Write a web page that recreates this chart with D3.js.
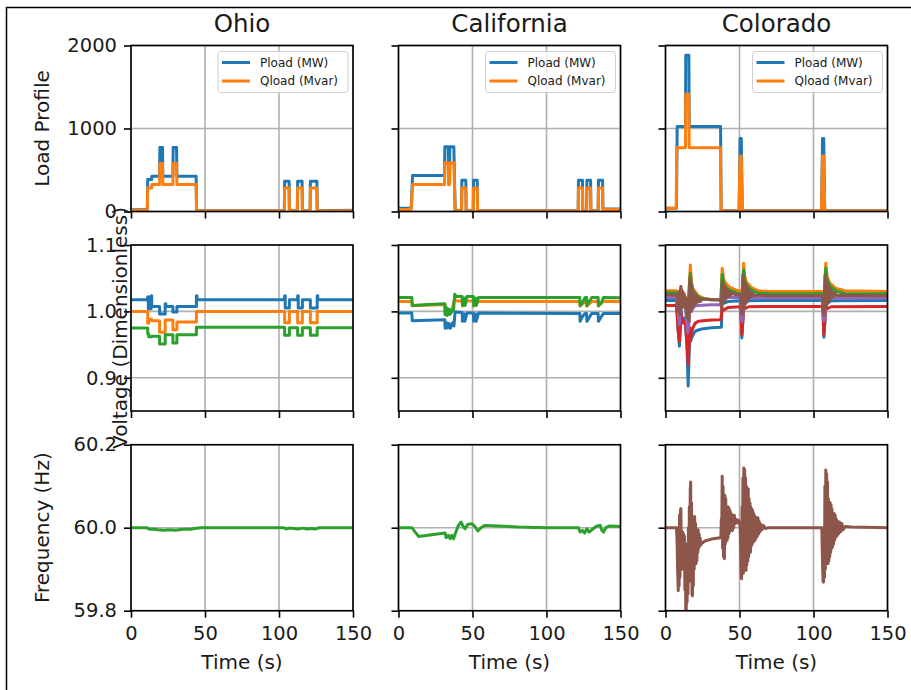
<!DOCTYPE html>
<html>
<head>
<meta charset="utf-8">
<script src="https://cdn.jsdelivr.net/npm/d3@7"></script>
<style>
  body { margin: 0; background: #fff; }
  svg { font-family: "DejaVu Sans", sans-serif; }
</style>
</head>
<body>
<div id="chart"></div>
<script>
// ---- chart data (time in s) ----
const states = ["Ohio", "California", "Colorado"];
const timeTicks = [0, 50, 100, 150];
const loadTicks = [0, 1000, 2000];
const voltTicks = [0.9, 1.0, 1.1];
const freqTicks = [59.8, 60.0, 60.2];
const legendLabels = ["Pload (MW)", "Qload (Mvar)"];

// load profiles [t, value]
const ohioP = [[0,20],[11,20],[11.3,385],[14,385],[14,425],[19.3,425],[19.5,770],[21.3,770],[21.5,425],[28.3,425],[28.5,770],[30.8,770],[31,425],[44,425],[44.3,10],[103.6,10],[103.8,364],[106.8,364],[107,10],[112.4,10],[112.6,364],[115.6,364],[115.8,10],[121,10],[121.2,364],[125.6,364],[125.8,10],[150,15]];
const ohioQ = [[0,15],[11,15],[11.3,283],[14,283],[14,324],[19.3,324],[19.5,579],[21.3,579],[21.5,324],[28.3,324],[28.5,579],[30.8,579],[31,324],[44,324],[44.3,5],[103.6,5],[103.8,283],[106.8,283],[107,5],[112.4,5],[112.6,283],[115.6,283],[115.8,5],[121,5],[121.2,283],[125.6,283],[125.8,5],[150,10]];
const caliP = [[0,40],[8.6,40],[9.5,433],[31.1,433],[31.3,781],[33.6,781],[33.8,433],[34.5,433],[34.7,781],[37.4,781],[38.3,10],[42.6,10],[42.8,376],[45.5,376],[45.7,10],[50.5,10],[50.7,376],[53.2,376],[53.4,10],[121.4,10],[121.6,376],[124.3,376],[124.5,10],[127.1,10],[127.3,376],[129.8,376],[130,10],[134.9,10],[135.1,376],[137.9,376],[138.1,30],[150,30]];
const caliQ = [[0,25],[8.6,25],[9.5,324],[31.1,324],[31.3,587],[33.6,587],[33.8,324],[34.5,324],[34.7,587],[37.4,587],[38.3,5],[42.6,5],[42.8,283],[45.5,283],[45.7,5],[50.5,5],[50.7,283],[53.2,283],[53.4,5],[121.4,5],[121.6,283],[124.3,283],[124.5,5],[127.1,5],[127.3,283],[129.8,283],[130,5],[134.9,5],[135.1,283],[137.9,283],[138.1,25],[150,25]];
const coloP = [[0,40],[7.4,40],[7.9,1024],[13.5,1024],[13.7,1883],[15.8,1883],[16,1024],[37.2,1024],[37.6,10],[49.7,10],[50.4,879],[51.2,879],[51.9,10],[105.4,10],[106.1,879],[106.9,879],[107.6,10],[150,10]];
const coloQ = [[0,40],[7.2,40],[7.6,769],[13.5,769],[13.7,1417],[15.8,1417],[16,769],[37.2,769],[37.6,5],[49.7,5],[50.4,668],[51.2,668],[51.9,5],[105.4,5],[106.1,668],[106.9,668],[107.6,5],[150,5]];

// bus voltages [t, p.u.]
const ohioV1 = [[0,1.0175],[11.3,1.0175],[11.3,1.022],[11.7,1.022],[11.7,1.004],[13.6,1.004],[13.6,1.0235],[14,1.0235],[14,1.0075],[19.3,1.0075],[19.3,0.996],[23.1,0.996],[23.1,1.0115],[23.6,1.0115],[23.6,1.0075],[28.3,1.0075],[28.3,0.999],[31,0.999],[31,1.0075],[44.2,1.0075],[44.2,1.0235],[44.6,1.0235],[44.6,1.0175],[103.8,1.0175],[103.8,1.0235],[104.2,1.0235],[104.2,1.005],[107,1.005],[107,1.0175],[112.6,1.0175],[112.6,1.0235],[113,1.0235],[113,1.005],[115.8,1.005],[115.8,1.0175],[121.2,1.0175],[121.2,1.005],[125.8,1.005],[125.8,1.0235],[126.2,1.0235],[126.2,1.0175],[150,1.0175]];
const ohioV2 = [[0,1.0],[11.3,1.0],[11.3,0.982],[12,0.982],[12,0.988],[14,0.988],[14,0.986],[19.3,0.986],[19.3,0.9685],[23.1,0.9685],[23.1,0.987],[28.3,0.987],[28.3,0.9725],[31,0.9725],[31,0.984],[44.2,0.984],[44.2,1.0],[103.8,1.0],[103.8,0.983],[107,0.983],[107,1.0],[112.6,1.0],[112.6,0.983],[115.8,0.983],[115.8,1.0],[121.2,1.0],[121.2,0.983],[125.8,0.983],[125.8,1.0],[150,1.0]];
const ohioV3 = [[0,0.975],[11.3,0.975],[11.3,0.966],[12,0.966],[12,0.962],[14,0.962],[14,0.9625],[19.3,0.9625],[19.3,0.951],[23.1,0.951],[23.1,0.965],[28.3,0.965],[28.3,0.9525],[31,0.9525],[31,0.965],[44.2,0.965],[44.2,0.976],[103.8,0.976],[103.8,0.964],[107,0.964],[107,0.9755],[112.6,0.9755],[112.6,0.964],[115.8,0.964],[115.8,0.9755],[121.2,0.9755],[121.2,0.964],[125.8,0.964],[125.8,0.9755],[150,0.9755]];
const caliV1 = [[0,0.9975],[9,0.9975],[9.3,0.986],[20,0.9865],[31.3,0.9875],[31.5,0.9745],[32.5,0.983],[33.2,0.975],[34,0.982],[35,0.9745],[36.5,0.983],[37.5,0.978],[38.2,0.999],[43,0.9985],[43.2,0.985],[44.5,0.996],[44.8,0.985],[46.2,0.9975],[50.6,0.9975],[50.8,0.985],[52.3,0.996],[52.5,0.985],[54.1,0.9975],[122.5,0.997],[122.7,0.985],[124.2,0.992],[126.1,0.997],[127.1,0.997],[127.3,0.985],[130.6,0.997],[134.9,0.997],[135.1,0.985],[137,0.992],[138.5,0.997],[150,0.997]];
const caliV2 = [[0,1.015],[9,1.015],[9.3,1.0085],[31.3,1.0105],[31.5,0.998],[33,1.003],[34,0.996],[36,1.002],[38,1.019],[39,1.0155],[43,1.0155],[43.3,1.008],[46.2,1.0155],[50.6,1.0155],[50.8,1.008],[54.1,1.015],[122.5,1.015],[122.7,1.008],[126.1,1.015],[127.1,1.015],[127.3,1.008],[130.6,1.015],[134.9,1.015],[135.1,1.008],[138.5,1.015],[150,1.015]];
const caliV3 = [[0,1.021],[9,1.021],[9.3,1.009],[20,1.0105],[31.3,1.0115],[31.5,0.995],[32.3,1.006],[32.7,0.994],[33.4,1.004],[33.8,0.995],[34.5,1.003],[35,0.996],[36,1.0],[37.2,1.003],[38,1.026],[39,1.0225],[43,1.0225],[43.3,1.009],[44.8,1.02],[45,1.009],[46.2,1.0225],[50.6,1.0225],[50.8,1.009],[52.4,1.02],[52.6,1.009],[54.1,1.021],[122.5,1.021],[122.7,1.009],[124.2,1.013],[126.1,1.021],[127.1,1.021],[127.3,1.009],[130.6,1.021],[134.9,1.021],[135.1,1.009],[137,1.013],[138.5,1.021],[150,1.0205]];
const coloV1 = [[0,1.0165],[7.4,1.0165],[8.6,0.97],[9.4,0.9475],[10,0.975],[10.4,1.005],[11.2,0.985],[12.5,0.99],[13.5,0.985],[14.5,0.95],[15.3,0.8875],[15.9,0.93],[16.5,0.975],[17.1,0.955],[17.6,0.96],[19.9,0.97],[22.1,0.972],[25.5,0.974],[31.1,0.9755],[37.4,0.976],[37.8,0.976],[38.3,1.02],[39.2,1.012],[42.4,1.015],[50.8,1.016],[51.6,0.96],[52.4,0.99],[52.8,1.025],[53.6,1.012],[56,1.016],[70,1.0165],[106.2,1.0165],[107,0.961],[107.8,0.99],[108.3,1.025],[109.2,1.012],[112,1.016],[150,1.0165]];
const coloV2 = [[0,1.031],[7.4,1.031],[8.6,1.026],[9.4,1.015],[10.4,1.037],[11.2,1.022],[12.3,1.028],[13.5,1.02],[15,1.012],[15.8,1.03],[16.8,1.07],[17.5,1.045],[18.3,1.036],[19.9,1.03],[22.1,1.024],[25.5,1.02],[31.1,1.018],[37.4,1.0175],[38.3,1.065],[39.2,1.05],[40.2,1.044],[42.4,1.038],[44.7,1.035],[49.2,1.031],[50.8,1.031],[51.6,1.02],[52.8,1.0725],[53.6,1.052],[54.8,1.044],[58.2,1.036],[62.7,1.031],[70,1.03],[106.2,1.03],[107.2,1.02],[108.3,1.0725],[109.2,1.052],[111.2,1.042],[115.7,1.034],[121.4,1.031],[150,1.03]];
const coloV3 = [[0,1.028],[7.4,1.028],[8.6,1.022],[9.4,1.012],[10.4,1.033],[11.2,1.02],[12.3,1.025],[13.5,1.018],[15,1.008],[15.8,1.025],[16.8,1.0575],[17.5,1.04],[18.3,1.032],[19.9,1.027],[22.1,1.022],[25.5,1.019],[31.1,1.0175],[37.4,1.017],[38.3,1.056],[39.2,1.044],[40.2,1.038],[42.4,1.033],[44.7,1.031],[49.2,1.027],[50.8,1.027],[51.6,1.016],[52.8,1.0625],[53.6,1.046],[54.8,1.039],[58.2,1.032],[62.7,1.0275],[70,1.0265],[106.2,1.0265],[107.2,1.016],[108.3,1.065],[109.2,1.048],[111.2,1.038],[115.7,1.03],[121.4,1.027],[150,1.0265]];
const coloV4 = [[0,1.009],[7.4,1.009],[8.6,0.97],[9.4,0.955],[10,0.975],[10.4,0.998],[11.2,0.982],[12.5,0.985],[13.5,0.98],[14.5,0.95],[15.3,0.92],[15.9,0.945],[16.5,0.975],[17.1,0.96],[17.6,0.97],[19.9,0.982],[22.1,0.985],[25.5,0.986],[31.1,0.987],[37.4,0.9875],[38.3,1.004],[39.2,1.002],[42.4,1.006],[50.8,1.007],[51.6,0.965],[52.4,0.99],[52.8,1.012],[53.6,1.004],[56,1.007],[70,1.0075],[106.2,1.0075],[107,0.965],[107.8,0.99],[108.3,1.012],[109.2,1.004],[112,1.007],[150,1.0075]];
const coloV5 = [[0,1.021],[7.4,1.021],[8.6,1.0],[9.4,0.98],[10.4,1.02],[11.2,1.005],[12.5,1.01],[13.5,1.005],[15,0.968],[15.8,0.98],[16.8,1.03],[17.6,1.0],[18.5,1.005],[19.9,1.008],[22.1,1.009],[31.1,1.01],[37.4,1.01],[38.3,1.03],[39.2,1.02],[42.4,1.021],[50.8,1.021],[51.6,0.985],[52.4,1.0],[52.8,1.03],[53.6,1.02],[58,1.021],[70,1.02],[106.2,1.02],[107,0.986],[107.8,1.0],[108.3,1.03],[109.2,1.02],[115,1.02],[150,1.02]];
const coloV6 = [[0,1.025],[7.4,1.025],[8,1.022],[8.6,1.0],[9.2,1.03],[9.7,0.995],[10.4,1.0375],[11,1.005],[11.6,1.03],[12.2,1.01],[12.8,1.025],[13.5,1.005],[14.1,1.02],[14.7,0.99],[15.3,1.005],[15.9,0.985],[16.5,1.05],[17.1,1.0],[17.7,1.04],[18.3,1.005],[18.9,1.03],[19.5,1.01],[20.1,1.025],[20.7,1.012],[21.3,1.022],[22,1.014],[22.7,1.02],[23.5,1.015],[25,1.0185],[31,1.0175],[37.4,1.0175],[37.8,1.005],[38.3,1.045],[38.9,1.012],[39.5,1.04],[40.1,1.016],[40.7,1.035],[41.3,1.02],[41.9,1.032],[42.5,1.022],[43.2,1.03],[44,1.024],[45,1.028],[47,1.025],[50.6,1.025],[51.2,1.005],[51.8,0.995],[52.4,1.055],[53,1.005],[53.6,1.045],[54.2,1.012],[54.8,1.04],[55.4,1.017],[56,1.034],[56.6,1.02],[57.3,1.03],[58,1.022],[58.8,1.028],[60,1.024],[62,1.0245],[70,1.0235],[106,1.0235],[106.6,1.005],[107.2,0.995],[107.8,1.055],[108.4,1.005],[109,1.045],[109.6,1.012],[110.2,1.04],[110.8,1.017],[111.4,1.034],[112,1.02],[112.7,1.03],[113.4,1.022],[114.2,1.028],[115.5,1.024],[118,1.0245],[150,1.0235]];

// frequency [t, Hz]
const ohioF = [[0,60.0],[11,60.0],[11.5,59.998],[13,59.996],[15,59.997],[18,59.995],[22,59.994],[26,59.995],[30,59.994],[35,59.996],[40,59.996],[43,59.998],[47,60.0],[70,60.0],[103.5,60.0],[104.5,59.997],[107,59.999],[110,59.998],[113,59.997],[116,59.999],[119,59.997],[122,59.998],[125,59.997],[127,60.0],[150,60.0]];
const caliF = [[0,60.0],[9,60.0],[11.3,59.9895],[13.5,59.979],[22.5,59.983],[31.5,59.987],[32.2,59.976],[33.8,59.9815],[34.9,59.9735],[36,59.9815],[37.2,59.9735],[38.3,59.9855],[40.5,60.0056],[42.3,60.0137],[43.9,60.0016],[45,59.9976],[46.8,60.008],[49.5,60.0097],[51.4,60.004],[53.6,59.992],[56.3,60.0016],[58.6,60.0056],[67.6,60.004],[81.1,60.0016],[99.1,60.0],[121.6,60.0],[122.7,59.9895],[124.3,59.9935],[125.7,59.987],[127.3,59.9976],[128.8,59.9895],[130.6,59.995],[134,60.004],[136.3,60.0056],[137.4,59.9935],[138.5,59.9895],[140.1,60.0],[142.3,60.004],[149.8,60.0032]];
const coloF = [[0,60.0],[7.4,60.0],[7.8,59.97],[8.2,59.9],[8.6,59.848],[8.9,60.0],[9.2,59.86],[9.5,60.03],[9.8,59.88],[10.1,60.04],[10.4,60.046],[10.7,59.93],[11.0,59.99],[11.3,59.9],[11.6,59.99],[11.9,59.905],[12.2,59.985],[12.5,59.91],[12.8,59.98],[13.1,59.85],[13.4,59.95],[13.7,59.8],[14.0,59.79],[14.3,59.96],[14.6,59.82],[14.9,59.96],[15.2,59.84],[15.5,60.0],[15.8,59.87],[16.1,60.05],[16.4,59.9],[16.7,60.09],[17.0,60.11],[17.3,59.88],[17.6,60.06],[17.9,59.84],[18.2,59.836],[18.5,60.02],[18.8,59.86],[19.1,60.02],[19.4,59.9],[19.7,60.027],[20.0,59.92],[20.3,60.01],[20.6,59.913],[20.9,59.99],[21.2,59.92],[21.5,59.99],[21.8,59.94],[22.1,59.995],[22.4,59.95],[22.7,59.985],[23.0,59.955],[23.4,59.975],[23.8,59.958],[24.4,59.962],[26.6,59.968],[31.1,59.9726],[36.8,59.9758],
  [37.4,59.976],[37.7,60.02],[38.0,59.99],[38.3,60.124],[38.6,59.95],[38.9,60.1],[39.2,59.93],[39.5,60.06],[39.8,59.925],[40.1,60.078],[40.4,59.96],[40.7,60.07],[41.0,59.97],[41.3,60.05],[41.6,59.969],[41.9,60.05],[42.2,59.975],[42.5,60.05],[42.8,59.985],[43.1,60.045],[43.4,59.99],[43.7,60.04],[44.0,59.993],[44.3,60.035],[44.6,59.995],[44.9,60.03],[45.3,59.9935],[45.7,60.03],[46.1,60.0],[46.5,60.03],[47.0,60.01],[47.8,60.02],[48.5,60.012],[49.2,60.018],[50.0,60.01],
  [50.5,60.0],[50.8,59.95],[51.1,59.88],[51.4,59.877],[51.7,60.05],[52.0,59.9],[52.3,60.12],[52.6,59.89],[52.9,60.144],[53.2,59.9],[53.5,60.14],[53.8,59.9],[54.1,60.12],[54.4,59.897],[54.7,60.1],[55.0,59.91],[55.3,60.095],[55.6,59.92],[55.9,60.094],[56.2,59.93],[56.5,60.07],[56.8,59.94],[57.1,60.06],[57.4,59.941],[57.7,60.05],[58.0,59.955],[58.3,60.045],[58.6,59.96],[58.9,60.042],[59.2,59.965],[59.5,60.035],[59.8,59.968],[60.1,60.03],[60.5,59.969],[60.9,60.025],[61.3,59.975],[61.7,60.024],[62.1,59.98],[62.5,60.024],[62.9,59.985],[63.3,60.015],[63.8,59.99],[64.5,60.008],[65.2,59.995],[66.1,60.0056],[67.5,59.998],[69.5,60.0],[76.2,60.0],
  [105.6,60.0],[105.9,59.95],[106.2,59.9],[106.5,59.87],[106.8,59.869],[107.1,60.0],[107.4,59.88],[107.7,60.1],[108.0,59.9],[108.3,60.139],[108.6,59.92],[108.9,60.13],[109.2,59.915],[109.5,60.11],[109.8,59.913],[110.1,60.07],[110.4,59.92],[110.7,60.062],[111.0,59.93],[111.3,60.06],[111.6,59.94],[111.9,60.055],[112.2,59.95],[112.5,60.045],[112.8,59.953],[113.1,60.035],[113.5,59.96],[113.9,60.034],[114.3,59.97],[114.7,60.03],[115.1,59.977],[115.5,60.02],[115.9,59.98],[116.4,60.015],[116.9,59.985],[117.6,60.0137],[118.4,59.99],[119.1,60.01],[120.0,59.995],[121.4,60.003],[125.9,60.0016],[150,60.0]];

// ---- layout ----
const W = 911, H = 690;
const colX = [131, 398.5, 665.5];
const rowY = [45.5, 245, 444.7];
const pw = 222, ph = 166;
const tab = d3.schemeCategory10;

const rows = [
  { domain: [0, 2000], ticks: loadTicks, fmt: d3.format("d"), label: "Load Profile", labelX: 42,
    series: [[[ohioP, 0], [ohioQ, 1]], [[caliP, 0], [caliQ, 1]], [[coloP, 0], [coloQ, 1]]] },
  { domain: [0.85, 1.1], ticks: voltTicks, fmt: d3.format(".1f"), label: "Voltage (Dimensionless)", labelX: 120,
    series: [[[ohioV1, 0], [ohioV2, 1], [ohioV3, 2]],
             [[caliV1, 0], [caliV2, 1], [caliV3, 2]],
             [[coloV1, 0], [coloV2, 1], [coloV3, 2], [coloV4, 3], [coloV5, 4], [coloV6, 5]]] },
  { domain: [59.8, 60.2], ticks: freqTicks, fmt: d3.format(".1f"), label: "Frequency (Hz)", labelX: 42,
    series: [[[ohioF, 2]], [[caliF, 2]], [[coloF, 5]]] }
];

const svg = d3.select("#chart").append("svg")
  .attr("width", W).attr("height", H);

svg.append("rect").attr("width", W).attr("height", H).attr("fill", "#fff");

// outer frame of the figure
svg.append("path")
  .attr("d", `M6.5,${H} V7.5 H${W}`)
  .attr("fill", "none").attr("stroke", "#000").attr("stroke-width", 1.5);

rows.forEach((row, r) => {
  const y = d3.scaleLinear().domain(row.domain).range([rowY[r] + ph, rowY[r]]);

  states.forEach((st, c) => {
    const x = d3.scaleLinear().domain([0, 150]).range([colX[c], colX[c] + pw]);
    const g = svg.append("g");
    const clipId = `clip-${r}-${c}`;
    g.append("clipPath").attr("id", clipId)
      .append("rect").attr("x", colX[c]).attr("y", rowY[r]).attr("width", pw).attr("height", ph);

    // grid
    g.selectAll(".gx").data(timeTicks).join("line")
      .attr("x1", d => x(d)).attr("x2", d => x(d))
      .attr("y1", rowY[r]).attr("y2", rowY[r] + ph)
      .attr("stroke", "#b0b0b0").attr("stroke-width", 1.6);
    g.selectAll(".gy").data(row.ticks).join("line")
      .attr("y1", d => y(d)).attr("y2", d => y(d))
      .attr("x1", colX[c]).attr("x2", colX[c] + pw)
      .attr("stroke", "#b0b0b0").attr("stroke-width", 1.6);

    // series
    const line = d3.line().x(d => x(d[0])).y(d => y(d[1]));
    const lg = g.append("g").attr("clip-path", `url(#${clipId})`);
    row.series[c].forEach(([data, ci]) => {
      lg.append("path").attr("d", line(data))
        .attr("fill", "none").attr("stroke", tab[ci])
        .attr("stroke-width", 3).attr("stroke-linejoin", "round").attr("stroke-linecap", "square");
    });

    // axes
    const ay = g.append("g").attr("transform", `translate(${colX[c]},0)`)
      .call(d3.axisLeft(y).tickValues(row.ticks).tickSize(7).tickSizeOuter(0).tickPadding(7)
        .tickFormat(c === 0 ? row.fmt : () => ""));
    const ax = g.append("g").attr("transform", `translate(0,${rowY[r] + ph})`)
      .call(d3.axisBottom(x).tickValues(timeTicks).tickSize(7).tickSizeOuter(0).tickPadding(8)
        .tickFormat(r === 2 ? d3.format("d") : () => ""));
    [ay, ax].forEach(a => {
      a.select(".domain").remove();
      a.selectAll("line").attr("stroke", "#000").attr("stroke-width", 1.6);
      a.selectAll("text").attr("fill", "#1a1a1a").style("font-size", "19.5px")
        .style("font-family", "DejaVu Sans");
    });

    // spines
    g.append("rect").attr("x", colX[c]).attr("y", rowY[r]).attr("width", pw).attr("height", ph)
      .attr("fill", "none").attr("stroke", "#000").attr("stroke-width", 1.6);

    if (r === 0) {
      svg.append("text").attr("x", colX[c] + pw / 2).attr("y", 32)
        .attr("text-anchor", "middle").style("font-size", "24.5px").attr("fill", "#1a1a1a").text(st);

      // legend
      const lw = 130, lh = 41;
      const lx = colX[c] + pw - 5 - lw, ly = rowY[r] + 6;
      const leg = svg.append("g").attr("transform", `translate(${lx},${ly})`);
      leg.append("rect").attr("width", lw).attr("height", lh).attr("rx", 3)
        .attr("fill", "#fff").attr("fill-opacity", 0.8).attr("stroke", "#d0d0d0").attr("stroke-width", 1);
      legendLabels.forEach((lab, i) => {
        const yy = 11 + i * 18.5;
        leg.append("line").attr("x1", 4).attr("x2", 32).attr("y1", yy).attr("y2", yy)
          .attr("stroke", tab[i]).attr("stroke-width", 3);
        leg.append("text").attr("x", 42).attr("y", yy).attr("dy", "0.35em")
          .style("font-size", "12px").attr("fill", "#1a1a1a").text(lab);
      });
    }
    if (r === 2) {
      svg.append("text").attr("x", colX[c] + pw / 2).attr("y", 669)
        .attr("text-anchor", "middle").style("font-size", "20px").attr("fill", "#1a1a1a").text("Time (s)");
    }
  });

  svg.append("text")
    .attr("transform", `translate(${row.labelX},${rowY[r] + ph / 2}) rotate(-90)`)
    .attr("dy", "0.35em").attr("text-anchor", "middle")
    .style("font-size", "20px").attr("fill", "#1a1a1a").text(row.label);
});
</script>
</body>
</html>
